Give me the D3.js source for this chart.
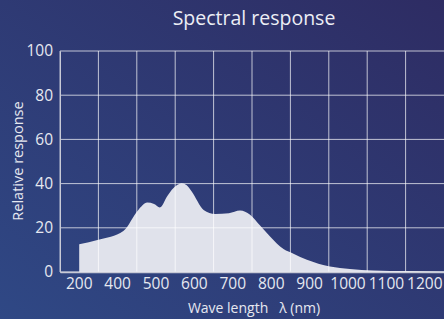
<!DOCTYPE html>
<html>
<head>
<meta charset="utf-8">
<script src="https://cdn.jsdelivr.net/npm/d3@7"></script>
<style>
  body { margin: 0; background: #2e3570; }
  svg { display: block; font-family: "Open Sans", "Noto Sans", sans-serif; }
</style>
</head>
<body>
<div id="chart"></div>
<script>
var svgWidth = 444;
var svgHeight = 319;

var margin = { top: 51, right: 0, bottom: 47, left: 60 };
var width = svgWidth - margin.left - margin.right;
var height = svgHeight - margin.top - margin.bottom;

// tick labels on the x axis (one per column)
var xLabels = ["200", "400", "500", "600", "700", "800", "900", "1000", "1100", "1200"];
var yTicks = [0, 20, 40, 60, 80, 100];

// curve: wavelength (nm) and relative response
var wavelength = [200, 300, 415, 454, 477, 495, 510, 530, 545, 567, 580, 593, 624, 654, 690, 719, 745, 771, 797, 832, 858, 893, 953, 1005, 1066, 1153, 1250];
var response   = [12.6, 14.6, 18.6, 28.1, 31.4, 30.8, 29.2, 34.5, 37.9, 40.2, 39.2, 36.4, 28.1, 26.3, 26.6, 27.8, 25.9, 21.0, 16.1, 10.4, 8.3, 5.5, 2.5, 1.4, 0.7, 0.4, 0.2];

var data = wavelength.map(function(w, i) { return { w: w, v: response[i] }; });

var svg = d3.select("#chart")
  .append("svg")
  .attr("width", svgWidth)
  .attr("height", svgHeight);

var defs = svg.append("defs");
var grad = defs.append("linearGradient")
  .attr("id", "bg")
  .attr("x1", "0%").attr("y1", "100%")
  .attr("x2", "100%").attr("y2", "0%");
grad.append("stop").attr("offset", "0%").attr("stop-color", "#2f4885");
grad.append("stop").attr("offset", "100%").attr("stop-color", "#2e2c63");

svg.append("rect")
  .attr("width", svgWidth)
  .attr("height", svgHeight)
  .attr("fill", "url(#bg)");

var chartGroup = svg.append("g")
  .attr("transform", `translate(${margin.left}, ${margin.top})`);

// x: one band per label, curve placed through band centres
var xBand = d3.scaleBand()
  .domain(xLabels)
  .range([0, width]);

var xLinear = d3.scaleLinear()
  .domain(xLabels.map(Number))
  .range(xLabels.map(function(d) { return xBand(d) + xBand.bandwidth() / 2; }));

var yLinear = d3.scaleLinear()
  .domain([0, 100])
  .range([height, 0]);

// filled response area
var area = d3.area()
  .x(function(d) { return xLinear(d.w); })
  .y0(yLinear(0))
  .y1(function(d) { return yLinear(d.v); })
  .curve(d3.curveMonotoneX);

chartGroup.append("path")
  .datum(data)
  .attr("d", area)
  .attr("fill", "#e0e2eb");

// grid lines
chartGroup.selectAll(".hgrid")
  .data(yTicks)
  .enter()
  .append("line")
  .attr("x1", 0)
  .attr("x2", width)
  .attr("y1", d => yLinear(d))
  .attr("y2", d => yLinear(d))
  .attr("stroke", "#ffffff")
  .attr("stroke-opacity", d => d === 0 ? 0.8 : 0.7)
  .attr("stroke-width", 1);

chartGroup.selectAll(".vgrid")
  .data(xLabels)
  .enter()
  .append("line")
  .attr("x1", d => xBand(d))
  .attr("x2", d => xBand(d))
  .attr("y1", 0)
  .attr("y2", height)
  .attr("stroke", "#ffffff")
  .attr("stroke-opacity", 0.7)
  .attr("stroke-width", 1);

// axes
var bottomAxis = d3.axisBottom(xBand).tickSize(0).tickPadding(6);
var leftAxis = d3.axisLeft(yLinear).tickValues(yTicks).tickSize(0).tickPadding(7);

var gx = chartGroup.append("g")
  .attr("transform", `translate(0, ${height})`)
  .call(bottomAxis);
gx.select(".domain").attr("stroke", "#c8cad6").attr("stroke-width", 1.5);
gx.selectAll("text")
  .attr("fill", "#e6e8f0")
  .attr("font-size", 15.5)
  .attr("font-family", "'Open Sans', sans-serif");

var gy = chartGroup.append("g")
  .call(leftAxis);
gy.select(".domain").attr("stroke", "#c8cad6").attr("stroke-width", 1);
gy.selectAll("text")
  .attr("fill", "#e6e8f0")
  .attr("font-size", 15.5)
  .attr("font-family", "'Open Sans', sans-serif");

// titles
svg.append("text")
  .attr("x", 254)
  .attr("y", 25)
  .attr("text-anchor", "middle")
  .attr("fill", "#eceef5")
  .attr("font-size", 19.5)
  .text("Spectral response");

svg.append("text")
  .attr("x", 254)
  .attr("y", 313)
  .attr("text-anchor", "middle")
  .attr("fill", "#e6e8f0")
  .attr("font-size", 14)
  .attr("xml:space", "preserve")
  .text("Wave length   λ (nm)");

svg.append("text")
  .attr("transform", "translate(23, 161) rotate(-90)")
  .attr("text-anchor", "middle")
  .attr("fill", "#e6e8f0")
  .attr("font-size", 14.5)
  .text("Relative response");
</script>
</body>
</html>
